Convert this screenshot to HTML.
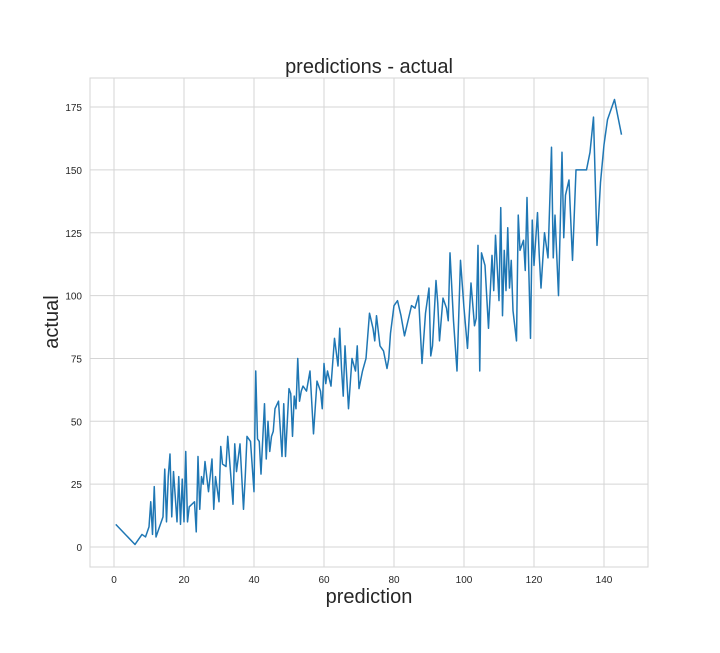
<!DOCTYPE html>
<html><head><meta charset="utf-8"><style>
body{margin:0;background:#fff;font-family:"Liberation Sans",sans-serif}
</style></head><body>
<svg id="chart" width="720" height="648" xmlns="http://www.w3.org/2000/svg"></svg>
<script>
const xs=[0.5,6,8,9,10,10.5,11,11.5,12,13,
14,14.5,15,15.5,16,16.5,17,17.5,18,18.5,
19,19.5,20,20.5,21,21.5,23,23.5,24,24.5,
25,25.5,26,27,28,28.5,29,30,30.5,31,
32,32.5,33,34,34.5,35,36,37,37.5,38,
39,40,40.5,41,41.5,42,43,43.5,44,44.5,
45,45.5,46,47,48,48.5,49,50,50.5,51,
51.5,52,52.5,53,53.5,54,55,56,57,58,
59,59.5,60,60.5,61,62,63,64,64.5,65,
65.5,66,67,68,69,69.5,70,71,72,73,
74,74.5,75,76,77,78,78.5,79,80,81,
82,83,84,85,86,87,88,89,90,90.5,
91,92,92.5,93,94,95,95.5,96,97,98,
99,100,101,102,103,103.5,104,104.5,105,106,
107,108,108.5,109,110,110.5,111,111.5,112,112.5,
113,113.5,114,115,115.5,116,117,117.5,118,119,
119.5,120,121,121.5,122,123,124,125,125.5,126,
127,127.5,128,128.5,129,130,131,132,133,134,
135,136,137,138,139,140,141,143,145];
const ys=[9,1,5,4,8,18,5,24,4,8,
12,31,10,28,37,12,30,20,10,28,
9,27,10,38,10,16,18,6,36,15,
28,25,34,22,35,15,28,18,40,33,
32,44,35,17,41,30,41,15,28,44,
42,22,70,43,42,29,57,35,50,38,
44,46,55,58,36,57,36,63,61,44,
60,55,75,58,62,64,62,70,45,66,
62,55,73,65,70,64,83,72,87,71,
60,80,55,75,70,80,63,70,75,93,
87,82,92,80,78,71,75,85,96,98,
92,84,90,96,95,100,73,93,103,76,
80,106,97,82,99,95,90,117,90,70,
114,95,79,105,88,91,120,70,117,112,
87,116,102,124,98,135,92,118,102,127,
103,114,94,82,132,118,122,110,139,83,
130,112,133,116,103,125,115,159,115,132,
100,128,157,123,140,146,114,150,150,150,
150,157,171,120,145,160,170,178,164];
const xTicks=[0,20,40,60,80,100,120,140];
const yTicks=[0,25,50,75,100,125,150,175];
const L=90,R=648,T=78,B=567;
const sx=v=>114+3.5*v, sy=v=>547-2.514*v;
const svg=document.getElementById('chart');
const NS='http://www.w3.org/2000/svg';
function mk(t,a){const e=document.createElementNS(NS,t);for(const k in a)e.setAttribute(k,a[k]);svg.appendChild(e);return e;}
xTicks.forEach(v=>{
  const g=mk('line',{x1:sx(v),x2:sx(v),y1:T,y2:B,stroke:'#d5d5d5','stroke-width':1});
  
  
  const t=mk('text',{x:sx(v),y:B+16,'font-size':10,'text-anchor':'middle',fill:'#262626'});t.textContent=v;
  
  
});
yTicks.forEach(v=>{
  const g=mk('line',{x1:L,x2:R,y1:sy(v),y2:sy(v),stroke:'#d5d5d5','stroke-width':1});
  
  
  const t=mk('text',{x:L-8,y:sy(v)+4,'font-size':10,'text-anchor':'end',fill:'#262626'});t.textContent=v;
  
  
});
const frame=mk('rect',{x:L,y:T,width:R-L,height:B-T,fill:'none',stroke:'#d5d5d5'});


const n=Math.min(xs.length,ys.length);
const pts=[];for(let i=0;i<n;i++)pts.push(sx(xs[i])+','+sy(ys[i]));
const line=mk('polyline',{points:pts.join(' '),fill:'none',stroke:'#1f77b4','stroke-width':1.5,'stroke-linejoin':'round'});


const ti=mk('text',{x:369,y:73,'font-size':20,'text-anchor':'middle',fill:'#262626'});ti.textContent='predictions - actual';


const xl=mk('text',{x:369,y:603,'font-size':20,'text-anchor':'middle',fill:'#262626'});xl.textContent='prediction';


const yl=mk('text',{x:58,y:322,'font-size':20,'text-anchor':'middle',fill:'#262626',transform:'rotate(-90 58 322)'});yl.textContent='actual';


</script>
</body></html>
